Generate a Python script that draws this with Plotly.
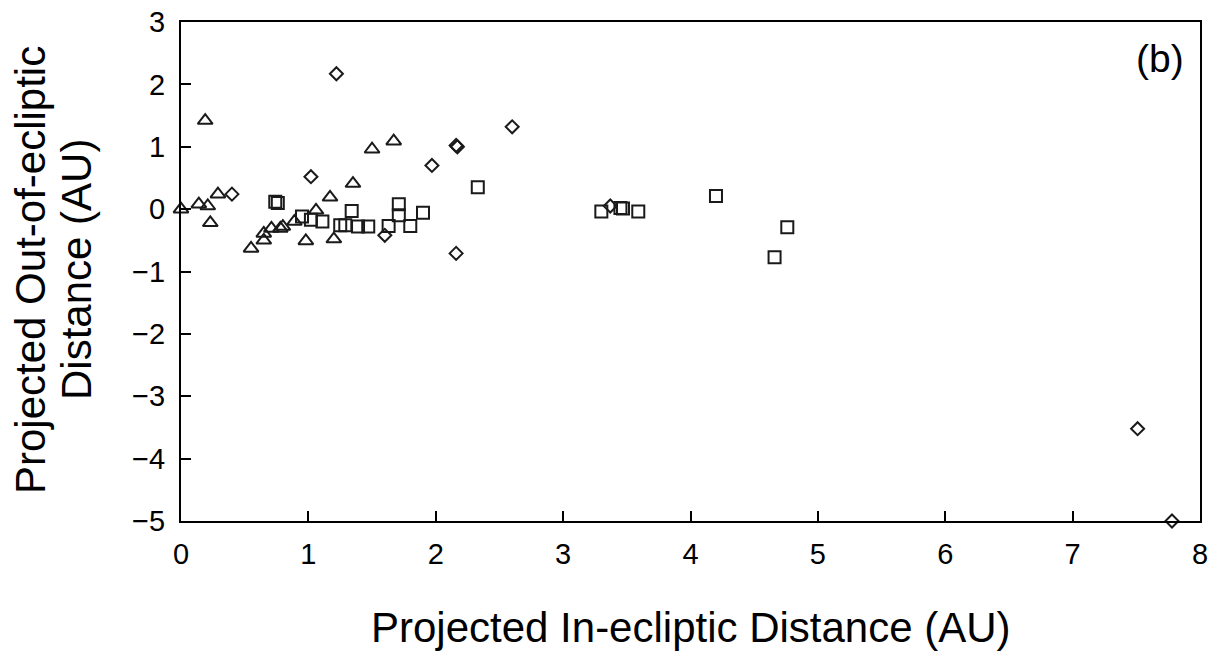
import plotly.graph_objects as go

# Triangle series
tri_x = [0.00, 0.19, 0.14, 0.21, 0.29, 0.23, 0.55, 0.65, 0.65, 0.71, 0.78, 0.80,
         0.89, 0.98, 1.06, 1.17, 1.20, 1.35, 1.50, 1.67]
tri_y = [0.00, 1.42, 0.08, 0.05, 0.24, -0.22, -0.63, -0.39, -0.50, -0.31, -0.31, -0.28,
         -0.20, -0.51, -0.02, 0.19, -0.48, 0.41, 0.96, 1.09]

# Square series
sq_x = [0.74, 0.76, 0.95, 1.02, 1.11, 1.25, 1.29, 1.34, 1.39, 1.47, 1.63, 1.71,
        1.71, 1.80, 1.90, 2.33, 3.30, 3.45, 3.47, 3.59, 4.20, 4.66, 4.76]
sq_y = [0.12, 0.10, -0.12, -0.17, -0.20, -0.26, -0.26, -0.03, -0.28, -0.28, -0.27, 0.08,
        -0.10, -0.27, -0.06, 0.35, -0.04, 0.02, 0.01, -0.04, 0.21, -0.77, -0.29]

# Diamond series
dia_x = [0.40, 1.02, 1.22, 1.60, 1.97, 2.16, 2.17, 2.16, 2.60, 3.37, 7.51, 7.78]
dia_y = [0.24, 0.52, 2.17, -0.42, 0.70, 1.02, 1.00, -0.71, 1.32, 0.05, -3.52, -5.00]

x_ticks = [0, 1, 2, 3, 4, 5, 6, 7, 8]
y_ticks = [3, 2, 1, 0, -1, -2, -3, -4, -5]

FONT = "Liberation Sans, Arial, sans-serif"
MC = "#1a1a1a"

fig = go.Figure()
fig.add_trace(go.Scatter(x=tri_x, y=tri_y, mode="markers", cliponaxis=False,
                         marker=dict(symbol="triangle-up-open", size=13,
                                     color=MC, line=dict(width=2, color=MC))))
fig.add_trace(go.Scatter(x=sq_x, y=sq_y, mode="markers", cliponaxis=False,
                         marker=dict(symbol="square-open", size=12,
                                     color=MC, line=dict(width=2, color=MC))))
fig.add_trace(go.Scatter(x=dia_x, y=dia_y, mode="markers", cliponaxis=False,
                         marker=dict(symbol="diamond-open", size=10,
                                     color=MC, line=dict(width=2, color=MC))))

axis_common = dict(showgrid=False, zeroline=False, showline=True, linecolor="black",
                   linewidth=2, mirror=True, ticks="inside", ticklen=10, tickwidth=2,
                   tickcolor="black", automargin=False,
                   tickfont=dict(family=FONT, size=29, color="black"))

fig.update_layout(
    width=1211, height=653,
    margin=dict(l=181, r=11, t=22, b=132, autoexpand=False),
    paper_bgcolor="white", plot_bgcolor="white",
    showlegend=False,
    xaxis=dict(range=[0, 8], tickvals=x_ticks, ticktext=[str(v) for v in x_ticks],
               ticklabelstandoff=6, **axis_common),
    yaxis=dict(range=[-5, 3], tickvals=y_ticks,
               ticktext=[str(v).replace("-", "\u2212") for v in y_ticks],
               ticklabelstandoff=8, **axis_common),
    annotations=[
        dict(text="Projected In-ecliptic Distance (AU)", xref="paper", yref="paper",
             x=0.5, y=-(627 - 521) / 499, xanchor="center", yanchor="middle", showarrow=False,
             font=dict(family=FONT, size=42, color="black")),
        dict(text="Projected Out-of-ecliptic", xref="paper", yref="paper",
             x=(30 - 181) / 1019, y=0.503, xanchor="center", yanchor="middle",
             textangle=-90, showarrow=False,
             font=dict(family=FONT, size=42, color="black")),
        dict(text="Distance (AU)", xref="paper", yref="paper",
             x=(76 - 181) / 1019, y=0.503, xanchor="center", yanchor="middle",
             textangle=-90, showarrow=False,
             font=dict(family=FONT, size=42, color="black")),
        dict(text="(b)", xref="paper", yref="paper",
             x=(1160 - 181) / 1019, y=(521 - 59) / 499, xanchor="center", yanchor="middle",
             showarrow=False, font=dict(family=FONT, size=39, color="black")),
    ],
)

fig.write_html("out.html")
